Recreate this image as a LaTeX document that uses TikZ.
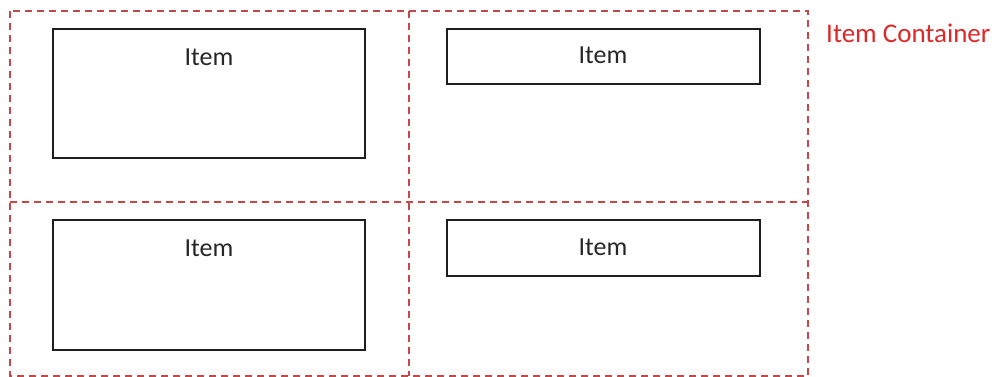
\documentclass[tikz,border=0pt]{standalone}
\usepackage{fontspec}
\setmainfont{Carlito}
\definecolor{dashred}{RGB}{196,72,72}
\definecolor{labelred}{RGB}{222,40,40}
\definecolor{boxline}{RGB}{30,30,30}
\begin{document}
\begin{tikzpicture}[x=1pt,y=-1pt,
  cell/.style={draw=dashred,line width=1.6pt,dash pattern=on 7pt off 5pt},
  itembox/.style={draw=boxline,line width=1.6pt},
  itemtext/.style={font=\fontsize{26}{30}\selectfont,text=black!85,inner sep=0pt}]
\useasboundingbox (0,0) rectangle (1001,377);
% container grid
\draw[cell] (10,11) rectangle (808,376);
\draw[cell] (409,11) -- (409,376);
\draw[cell] (10,202) -- (808,202);
% items
\draw[itembox] (53,29) rectangle (365,158);
\draw[itembox] (447,29) rectangle (760,84);
\draw[itembox] (53,220) rectangle (365,350);
\draw[itembox] (447,220) rectangle (760,276);
\node[itemtext] (t1) at (209,57) {Item};
\node[itemtext] (t2) at (603,55) {Item};
\node[itemtext] (t3) at (209,248) {Item};
\node[itemtext] (t4) at (603,247) {Item};
\node[font=\fontsize{27}{30}\selectfont,text=labelred,inner sep=0pt,anchor=west] (lbl) at (826,33) {Item Container};
\end{tikzpicture}
\end{document}
